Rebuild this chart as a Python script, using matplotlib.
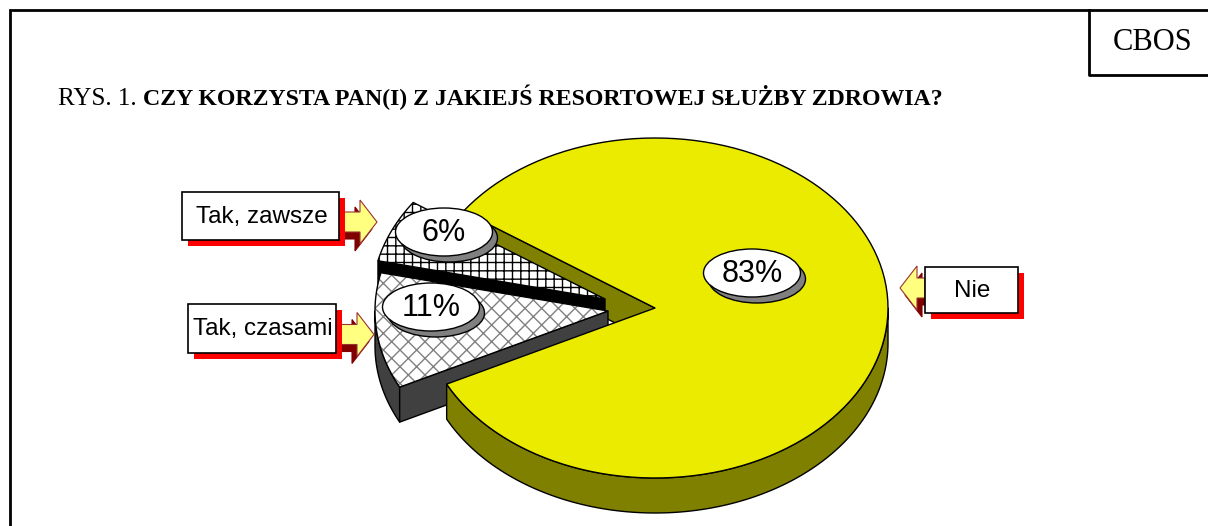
import numpy as np
import matplotlib.pyplot as plt
from matplotlib.patches import Polygon, Ellipse, Rectangle

# data
labels = ['Nie', 'Tak, zawsze', 'Tak, czasami']
values = [83, 6, 11]
title_prefix = 'RYS. 1. '
title_main = 'CZY KORZYSTA PAN(I) Z JAKIEJŚ RESORTOWEJ SŁUŻBY ZDROWIA?'
logo = 'CBOS'

plt.rcParams['font.family'] = ['Liberation Sans', 'DejaVu Sans']

# pie geometry (pixels, y down)
CX, CY = 655, 308
A, B = 233, 170
DEPTH = 35
START = 145.4  # where 'Tak, zawsze' starts, going counter-clockwise

order = ['Tak, zawsze', 'Tak, czasami', 'Nie']
shift = {'Nie': (0, 0), 'Tak, zawsze': (-50, -9), 'Tak, czasami': (-47, 3)}
style = {
    'Nie': dict(top='#EBEB00', hatch=None, hc=None, wall='#808000'),
    'Tak, zawsze': dict(top='white', hatch='++', hc='black', wall='black'),
    'Tak, czasami': dict(top='white', hatch='xx', hc='#808080', wall='#404040'),
}
# label ellipse centres and callout boxes
bubble = {'Nie': (752, 273), 'Tak, zawsze': (444, 232), 'Tak, czasami': (431, 307)}
boxes = {'Nie': (925, 267, 93, 46), 'Tak, zawsze': (182, 192, 157, 48),
         'Tak, czasami': (188, 304, 148, 49)}

span = {}
t = START
for name in order:
    v = values[labels.index(name)]
    span[name] = (t, t + 360 * v / sum(values))
    t += 360 * v / sum(values)

fig = plt.figure(figsize=(12.08, 5.26), dpi=100)
ax = fig.add_axes([0, 0, 1, 1])
ax.set_xlim(0, 1208)
ax.set_ylim(526, 0)
ax.axis('off')


def arc(cx, cy, t1, t2, dz=0, n=120):
    tt = np.radians(np.linspace(t1, t2, n))
    return np.column_stack([cx + A * np.cos(tt), cy - B * np.sin(tt) + dz])


def poly(pts, fc, hatch=None, hc=None, z=1):
    if hatch:
        ax.add_patch(Polygon(pts, closed=True, facecolor=fc, edgecolor=hc,
                             hatch=hatch, lw=0, zorder=z))
        ax.add_patch(Polygon(pts, closed=True, fill=False, edgecolor='black',
                             lw=1, zorder=z))
    else:
        ax.add_patch(Polygon(pts, closed=True, facecolor=fc, edgecolor='black',
                             lw=1, zorder=z, joinstyle='round'))


def centre(name):
    return CX + shift[name][0], CY + shift[name][1]


def radial_wall(name, edge, z):
    cx, cy = centre(name)
    t = span[name][edge]
    p = arc(cx, cy, t, t, n=1)[0]
    pts = [(cx, cy), tuple(p), (p[0], p[1] + DEPTH), (cx, cy + DEPTH)]
    poly(pts, style[name]['wall'], z=z)


def outer_wall(name, z):
    cx, cy = centre(name)
    t1, t2 = span[name]
    lo, hi = max(t1, 180), min(t2, 360)
    if hi <= lo:
        return
    top = arc(cx, cy, lo, hi)
    bot = arc(cx, cy, lo, hi, DEPTH)[::-1]
    poly(np.vstack([top, bot]), style[name]['wall'], z=z)


def top_face(name, z):
    cx, cy = centre(name)
    t1, t2 = span[name]
    pts = np.vstack([[cx, cy], arc(cx, cy, t1, t2)])
    s = style[name]
    poly(pts, s['top'], s['hatch'], s['hc'], z=z)


# back to front
radial_wall('Nie', 1, 1)
radial_wall('Tak, zawsze', 1, 2)
top_face('Tak, zawsze', 3)
outer_wall('Tak, czasami', 4)
radial_wall('Tak, czasami', 1, 4)
top_face('Tak, czasami', 5)
outer_wall('Nie', 6)
top_face('Nie', 7)

# value bubbles
for name, (bx, by) in bubble.items():
    ax.add_patch(Ellipse((bx + 5, by + 6), 97, 48, facecolor='#808080',
                         edgecolor='black', lw=1, zorder=10))
    ax.add_patch(Ellipse((bx, by), 97, 48, facecolor='white',
                         edgecolor='black', lw=1, zorder=11))
    ax.text(bx, by + 1, f'{values[labels.index(name)]}%', fontsize=22,
            ha='center', va='center', zorder=12)


def arrow(x_tail, x_tip, yc, z=8):
    d = np.sign(x_tip - x_tail)
    xh = x_tip - d * 17
    hb, hh = 10, 22
    pts = [(x_tail, yc - hb), (xh, yc - hb), (xh, yc - hh), (x_tip, yc),
           (xh, yc + hh), (xh, yc + hb), (x_tail, yc + hb)]
    sh = [(x - d * 5, y + 7) for x, y in pts]
    ax.add_patch(Polygon(sh, closed=True, facecolor='#800000',
                         edgecolor='#800000', lw=0.8, zorder=z))
    ax.add_patch(Polygon(pts, closed=True, facecolor='#FFFF80',
                         edgecolor='#993333', lw=0.8, zorder=z + 0.5))


# callouts
for name, (x, y, w, h) in boxes.items():
    ax.add_patch(Rectangle((x + 6, y + 6), w, h, facecolor='#FF0000',
                           lw=0, zorder=13))
    ax.add_patch(Rectangle((x, y), w, h, facecolor='white',
                           edgecolor='black', lw=1.2, zorder=14))
    ax.text(x + w / 2 + 1, y + h / 2 + 1, name, fontsize=17.5, ha='center',
            va='center', zorder=15)
    if name == 'Nie':
        arrow(x, 900, y + h / 2 - 2, z=12)
    else:
        arrow(x + w, x + w + 38, y + h / 2 + 6, z=12)

# frame and CBOS box
ax.plot([10, 10, 1208], [526, 10, 10], color='black', lw=2, zorder=20,
        solid_joinstyle='miter')
ax.plot([1089, 1089, 1208], [10, 75, 75], color='black', lw=2, zorder=20)
ax.text(1153, 43, logo, fontsize=22, family='Liberation Serif', ha='center',
        va='center', zorder=20)

# title
t1 = ax.text(58, 105, title_prefix, fontsize=18, family='Liberation Serif',
             va='baseline')
ax.annotate(title_main, xy=(1, 0), xycoords=t1, fontsize=17.2,
            family='Liberation Serif', fontweight='bold', va='bottom')

fig.savefig('out.png', dpi=100)
